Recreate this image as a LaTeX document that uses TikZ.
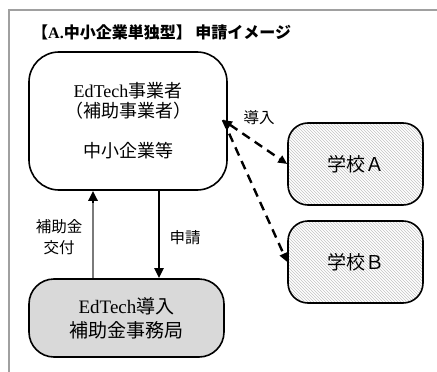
\documentclass[tikz,border=0pt]{standalone}
\usepackage{fontspec}
\setmainfont{Liberation Serif}
\newfontfamily\jp{Noto Sans CJK JP}
\usetikzlibrary{arrows.meta,patterns}
\definecolor{framegray}{HTML}{A0A0A0}
\definecolor{officefill}{HTML}{D9D9D9}
\definecolor{hatchgray}{HTML}{C4C4C4}
\definecolor{subsidygray}{HTML}{7A7A7A}
\begin{document}
\begin{tikzpicture}[x=1pt,y=-1pt,
  box/.style={draw=black, line width=1.6pt, rectangle, inner sep=0pt, align=center},
  lbl/.style={inner sep=0pt, align=center, font=\jp\fontsize{15.5}{21}\selectfont},
  school/.style={box, rounded corners=20pt, minimum width=135pt, minimum height=82pt,
    pattern=north west lines, pattern color=hatchgray,
    font=\jp\fontsize{19}{22}\selectfont},
  intro/.style={line width=2.4pt, dash pattern=on 9pt off 6pt},
  headtip/.tip={Triangle[length=10pt,width=9pt]}
]
\useasboundingbox (0,0) rectangle (437,372);
\fill[white] (0,0) rectangle (437,372);

% frame lines along the top and left
\draw[framegray, line width=1.8pt] (8,10) -- (437,10);
\draw[framegray, line width=1.8pt] (9,10) -- (9,372);

% heading
\node[anchor=west, inner sep=0pt, font=\bfseries\fontsize{16}{18}\selectfont] (title) at (32,32)
  {{\jp 【}A.{\jp 中小企業単独型】 申請イメージ}};

% applicant
\node[box, rounded corners=30pt, minimum width=198pt, minimum height=138pt,
  font=\fontsize{18}{20}\selectfont] (main) at (128,121)
  {EdTech{\jp 事業者}\\{\jp （補助事業者）}\\[20pt]{\jp 中小企業等}};

% secretariat
\node[box, rounded corners=25pt, minimum width=195pt, minimum height=78pt,
  fill=officefill, font=\fontsize{19}{24}\selectfont] (office) at (126.5,318)
  {EdTech{\jp 導入}\\{\jp 補助金事務局}};

% schools
\node[school] (schA) at (355.5,164) {学校Ａ};
\node[school] (schB) at (355.5,262) {学校Ｂ};

% introduction arrows
\coordinate (src) at (223,120);
\draw[intro, {Triangle[length=9pt,width=8pt]}-{Triangle[length=9pt,width=8pt]}] (src) -- (schA.west);
\draw[intro, -{Triangle[length=9pt,width=8pt]}] (src) -- (schB.west);
\node[lbl] (introlbl) at (259,118) {導入};

% subsidy (grey shaft, black head) and application arrows
\path (office.north) ++(-33.5,0) coordinate (upfoot);
\path (main.south) ++(-35,0) coordinate (uphead);
\path (main.south) ++(31,0) coordinate (downfoot);
\path (office.north) ++(32.5,0) coordinate (downhead);
\draw[draw=subsidygray, line width=2.6pt, shorten >=8pt] (upfoot) -- (uphead);
\draw[black, line width=2.6pt, -{headtip}] ([yshift=-12pt]uphead) -- (uphead);
\draw[black, line width=2.4pt, -{headtip}] (downfoot) -- (downhead);
\node[lbl] (subsidy) at (59,237) {補助金\\交付};
\node[lbl] (apply) at (185,238) {申請};
\end{tikzpicture}
\end{document}
